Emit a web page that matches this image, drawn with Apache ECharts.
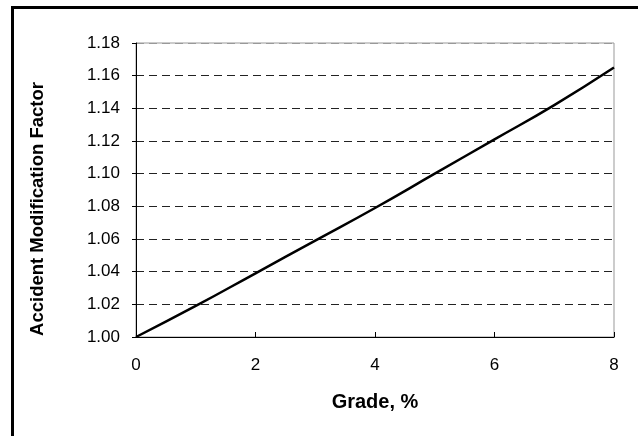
<!DOCTYPE html>
<html>
<head>
<meta charset="utf-8">
<script src="https://cdn.jsdelivr.net/npm/echarts@6/dist/echarts.min.js"></script>
<style>
  html, body { margin: 0; padding: 0; background: #fff; }
  #chart { width: 638px; height: 436px; }
</style>
</head>
<body>
<div id="chart"></div>
<script>
// grade (%) vs accident modification factor
const grades = [0, 1, 2, 3, 4, 5, 6, 7, 8]
const amf = [1.000, 1.019, 1.039, 1.059, 1.079, 1.100, 1.121, 1.142, 1.165]
const yTicks = [1.00, 1.02, 1.04, 1.06, 1.08, 1.10, 1.12, 1.14, 1.16, 1.18]

const chart = echarts.init(document.getElementById('chart'))
const font = '"Liberation Sans", Arial, sans-serif'

// one colour per split line, the top one sits on the grey frame
const splitColors = yTicks.map((v, i) => i === yTicks.length - 1 ? '#999' : '#222')

chart.setOption({
  animation: false,
  backgroundColor: '#fff',
  graphic: [{
    type: 'rect',
    shape: { x: 12.5, y: 7.5, width: 700, height: 500 },
    style: { fill: 'none', stroke: '#000', lineWidth: 3 },
    silent: true
  }],
  grid: {
    left: 136,
    right: 24,
    top: 43,
    bottom: 99,
    show: true,
    borderColor: '#999',
    borderWidth: 1
  },
  xAxis: {
    type: 'value',
    min: 0,
    max: 8,
    interval: 2,
    name: 'Grade, %',
    nameLocation: 'middle',
    nameGap: 55,
    nameTextStyle: { fontFamily: font, fontSize: 20, fontWeight: 'bold', color: '#000' },
    axisLine: { show: true, onZero: false, lineStyle: { color: '#000', width: 1 } },
    axisTick: { show: true, inside: true, length: 5, lineStyle: { color: '#000' } },
    axisLabel: { fontFamily: font, fontSize: 17, color: '#000', margin: 20 },
    splitLine: { show: false }
  },
  yAxis: {
    type: 'value',
    min: 1.00,
    max: 1.18,
    interval: 0.02,
    name: 'Accident Modification Factor',
    nameLocation: 'middle',
    nameGap: 89,
    nameTextStyle: {
      fontFamily: font, fontSize: 18.5, fontWeight: 'bold', color: '#000',
      padding: [0, 38, 0, 0]
    },
    axisLine: { show: true, lineStyle: { color: '#000', width: 1 } },
    axisTick: { show: true, inside: false, length: 4, lineStyle: { color: '#000' } },
    axisLabel: {
      fontFamily: font, fontSize: 17, color: '#000', margin: 16,
      formatter: v => v.toFixed(2)
    },
    splitLine: {
      show: true,
      lineStyle: { color: splitColors, width: 1, type: [8, 5] }
    }
  },
  series: [{
    type: 'line',
    data: grades.map((g, i) => [g, amf[i]]),
    showSymbol: false,
    smooth: true,
    lineStyle: { color: '#000', width: 2.5 }
  }]
})
</script>
</body>
</html>
